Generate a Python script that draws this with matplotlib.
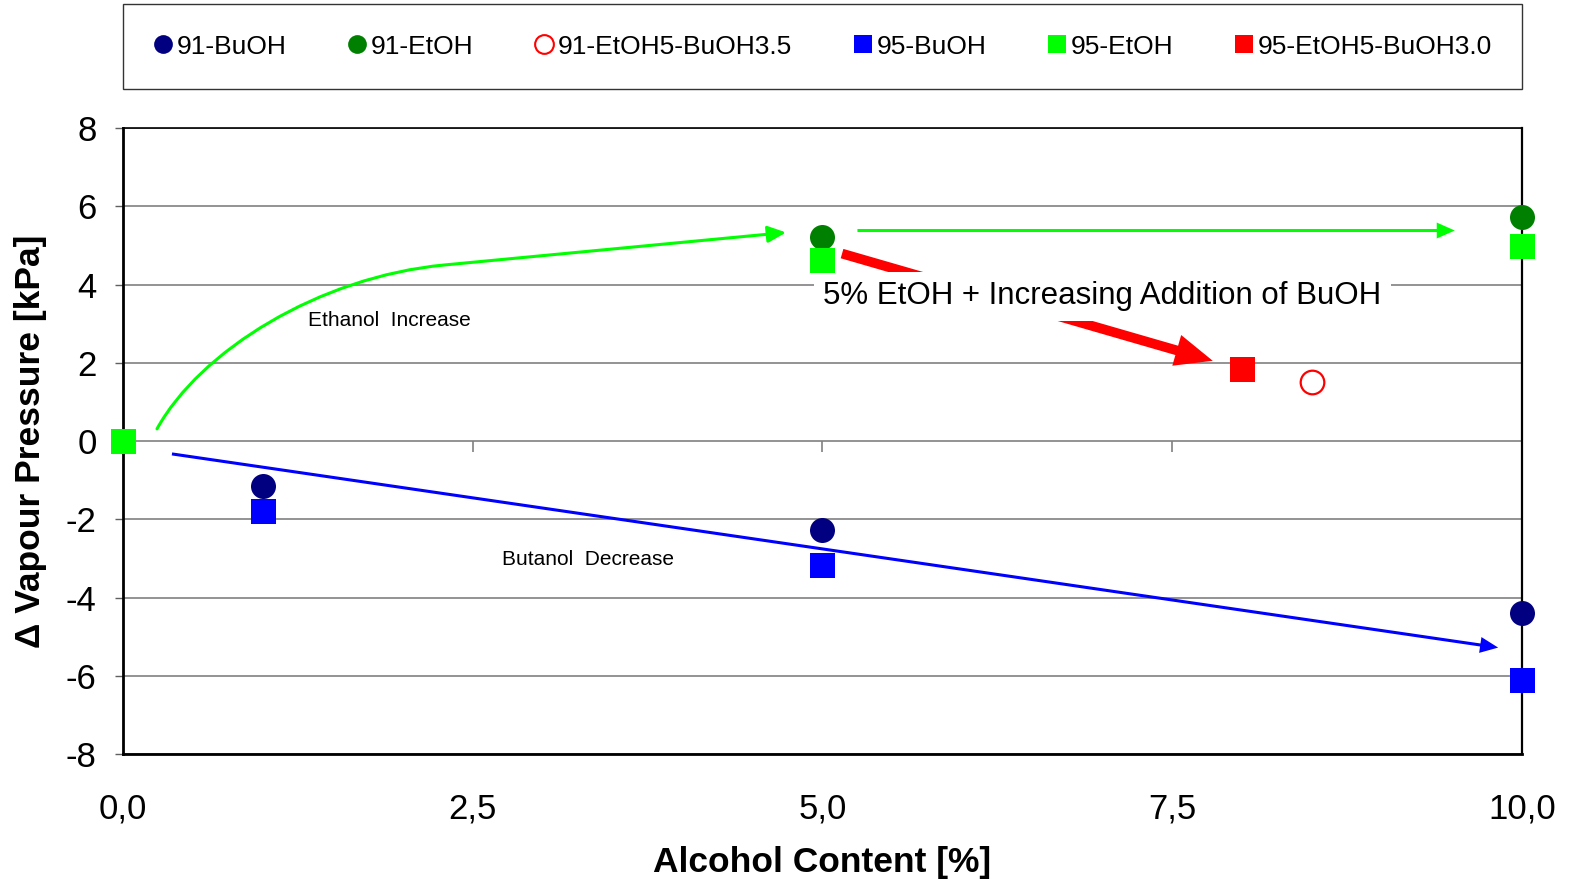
"""Vapour pressure change vs alcohol content, Excel-style scatter with arrows."""

import matplotlib
matplotlib.use("Agg")
import matplotlib.pyplot as plt
from matplotlib.lines import Line2D
from matplotlib.patches import FancyArrowPatch
from matplotlib.path import Path

plt.rcParams["font.family"] = ["Liberation Sans", "DejaVu Sans"]
plt.rcParams["axes.unicode_minus"] = False

# ---------------------------------------------------------------------------
# Data
# ---------------------------------------------------------------------------
x_91_buoh = [0, 1, 5, 10]
y_91_buoh = [0, -1.15, -2.28, -4.40]

x_91_etoh = [0, 5, 10]
y_91_etoh = [0, 5.22, 5.72]

x_91_mix = [8.5]
y_91_mix = [1.51]

x_95_buoh = [0, 1, 5, 10]
y_95_buoh = [0, -1.80, -3.18, -6.10]

x_95_etoh = [0, 5, 10]
y_95_etoh = [0, 4.62, 4.98]

x_95_mix = [8.0]
y_95_mix = [1.85]

series_labels = ["91-BuOH", "91-EtOH", "91-EtOH5-BuOH3.5",
                 "95-BuOH", "95-EtOH", "95-EtOH5-BuOH3.0"]
x_ticks = [0, 2.5, 5, 7.5, 10]
x_tick_labels = ["0,0", "2,5", "5,0", "7,5", "10,0"]
y_ticks = list(range(-8, 9, 2))

NAVY = "#000080"
DKGREEN = "#008000"
RED = "#FF0000"
BLUE = "#0000FF"
LIME = "#00FF00"

# ---------------------------------------------------------------------------
# Figure
# ---------------------------------------------------------------------------
fig = plt.figure(figsize=(15.87, 8.92), dpi=100)
ax = fig.add_axes([0.0775, 0.1547, 0.8815, 0.7018])

ax.set_xlim(0, 10)
ax.set_ylim(-8, 8)

# grid + spines
ax.set_yticks(y_ticks)
ax.yaxis.grid(True, color="#808080", linewidth=1.2, zorder=0)
ax.set_axisbelow(True)
for side, lw in [("left", 2.0), ("right", 1.6), ("top", 1.2), ("bottom", 2.0)]:
    ax.spines[side].set_color("black")
    ax.spines[side].set_linewidth(lw)

ax.tick_params(axis="y", direction="out", length=6, width=1.0,
               color="#606060", pad=13, labelsize=25)
ax.set_xticks(x_ticks)
ax.set_xticklabels(x_tick_labels)
ax.tick_params(axis="x", length=0, pad=28, labelsize=25)

# category-axis tick marks sit on the zero line
for xt in x_ticks[1:-1]:
    ax.vlines(xt, 0, -0.28, color="#808080", linewidth=1.2, zorder=1)

# ---------------------------------------------------------------------------
# Arrows and annotations
# ---------------------------------------------------------------------------
curve = Path(
    [(0.243, 0.31), (0.55, 2.3), (1.4, 4.2), (2.3, 4.5), (4.74, 5.33)],
    [Path.MOVETO, Path.CURVE4, Path.CURVE4, Path.CURVE4, Path.LINETO],
)
ax.add_patch(FancyArrowPatch(
    path=curve, arrowstyle="-|>,head_length=11,head_width=5",
    mutation_scale=1, color=LIME, linewidth=2.2, zorder=3,
))

thin_arrow = "simple,head_length=13,head_width=11.5,tail_width=2.2"
ax.annotate("", xy=(9.52, 5.38), xytext=(5.25, 5.38),
            arrowprops=dict(arrowstyle=thin_arrow, mutation_scale=1,
                            color=LIME, lw=0, shrinkA=0, shrinkB=0),
            zorder=3)
ax.annotate("", xy=(9.83, -5.28), xytext=(0.35, -0.33),
            arrowprops=dict(arrowstyle=thin_arrow, mutation_scale=1,
                            color=BLUE, lw=0, shrinkA=0, shrinkB=0),
            zorder=3)
ax.annotate("", xy=(7.79, 2.05), xytext=(5.14, 4.79),
            arrowprops=dict(arrowstyle="simple,head_length=27,head_width=23,tail_width=7",
                            mutation_scale=1, color=RED, lw=0,
                            shrinkA=0, shrinkB=0),
            zorder=3)

ax.text(7.0, 3.70, "5% EtOH + Increasing Addition of BuOH", fontsize=22.5,
        ha="center", va="center", zorder=4,
        bbox=dict(boxstyle="square,pad=0.3", fc="white", ec="none"))
ax.text(1.32, 3.09, "Ethanol  Increase", fontsize=15, ha="left", va="center",
        zorder=4)
ax.text(2.71, -3.02, "Butanol  Decrease", fontsize=15, ha="left", va="center",
        zorder=4)

# ---------------------------------------------------------------------------
# Series
# ---------------------------------------------------------------------------
ms = 18
mk = dict(linestyle="none", clip_on=False, zorder=5, markeredgewidth=0)
ax.plot(x_91_buoh, y_91_buoh, marker="o", ms=ms, color=NAVY, **mk)
ax.plot(x_91_etoh, y_91_etoh, marker="o", ms=ms, color=DKGREEN, **mk)
ax.plot(x_91_mix, y_91_mix, marker="o", ms=ms - 1, linestyle="none",
        markerfacecolor="white", markeredgecolor=RED, markeredgewidth=1.6,
        clip_on=False, zorder=5)
ax.plot(x_95_buoh, y_95_buoh, marker="s", ms=ms, color=BLUE, **mk)
ax.plot(x_95_etoh, y_95_etoh, marker="s", ms=ms, color=LIME, **mk)
ax.plot(x_95_mix, y_95_mix, marker="s", ms=ms, color=RED, **mk)

# ---------------------------------------------------------------------------
# Labels and legend
# ---------------------------------------------------------------------------
ax.set_xlabel("Alcohol Content [%]", fontsize=25.5, fontweight="bold")
ax.xaxis.set_label_coords(0.5, -0.147)
ax.set_ylabel("\u0394 Vapour Pressure [kPa]", fontsize=25.5, fontweight="bold")
ax.yaxis.set_label_coords(-0.0545, 0.5)

legend_style = [
    dict(marker="o", color=NAVY),
    dict(marker="o", color=DKGREEN),
    dict(marker="o", markerfacecolor="white", markeredgecolor=RED,
         markeredgewidth=1.5),
    dict(marker="s", color=BLUE),
    dict(marker="s", color=LIME),
    dict(marker="s", color=RED),
]
handles = []
for label, st in zip(series_labels, legend_style):
    st = dict(st)
    st.setdefault("markeredgewidth", 0)
    handles.append(Line2D([0], [0], linestyle="none", markersize=13.5,
                          label=label, **st))

leg = fig.legend(
    handles=handles, ncol=6, mode="expand", fontsize=19,
    loc="lower left",
    bbox_to_anchor=(123 / 1587, 1 - 89 / 892, 1399 / 1587, 82 / 892),
    frameon=True, fancybox=False, borderpad=1.15, borderaxespad=0,
    handlelength=0.75, handletextpad=0.15, columnspacing=1.0,
)
leg.get_frame().set_edgecolor("black")
leg.get_frame().set_linewidth(1.0)

fig.savefig("out.png", dpi=100)
